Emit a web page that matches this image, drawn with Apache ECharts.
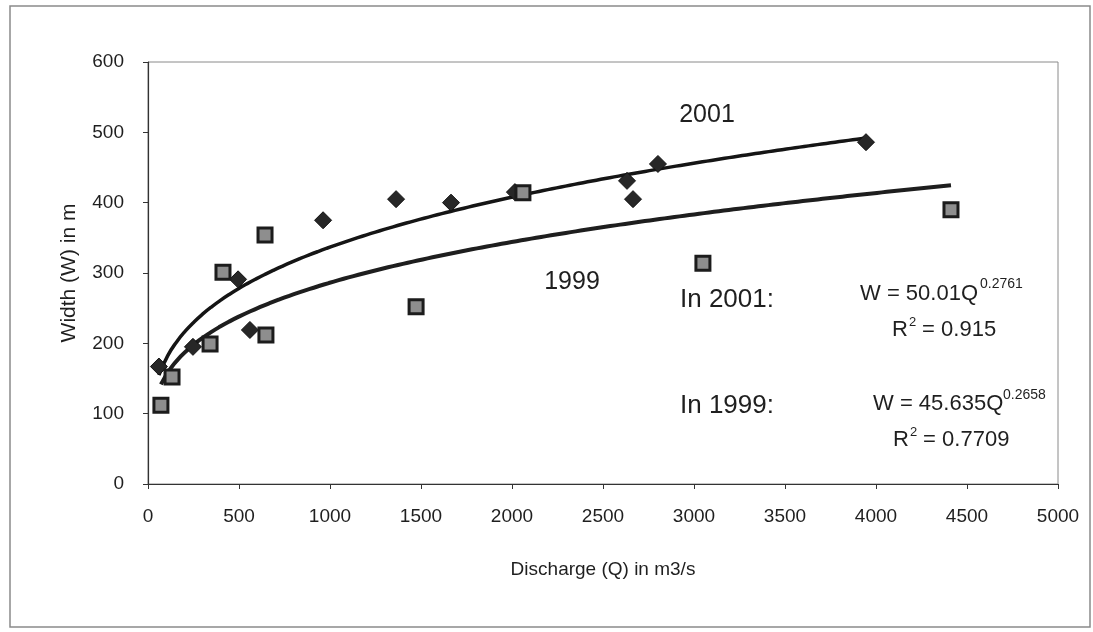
<!DOCTYPE html>
<html>
<head>
<meta charset="utf-8">
<script src="https://cdn.jsdelivr.net/npm/echarts@6/dist/echarts.min.js"></script>
<style>
html,body{margin:0;padding:0;background:#fff;}
#c{width:1093px;height:632px;}
</style>
</head>
<body>
<div id="c"></div>
<script>
// Discharge Q (m3/s) and width W (m)
const q1999 = [71, 132, 341, 412, 643, 648, 1473, 2060, 3049, 4412];
const w1999 = [112, 152, 199, 301, 354, 212, 252, 414, 314, 390];
const q2001 = [60, 247, 495, 560, 962, 1363, 1665, 2016, 2632, 2665, 2802, 3945];
const w2001 = [167, 195, 291, 219, 375, 405, 400, 415, 431, 405, 455, 486];
// Trendline equations as printed on the chart: W = a * Q^b
const fit2001 = {a: 50.01, b: 0.2761};
const fit1999 = {a: 45.635, b: 0.2658};
const xTicks = {min: 0, max: 5000, interval: 500};
const yTicks = {min: 0, max: 600, interval: 100};

function pairs(xs, ys){ return xs.map((x,i)=>[x, ys[i]]); }
function curve(fit, xs){
  const lo = Math.min(...xs), hi = Math.max(...xs);
  const out = [];
  const n = 80;
  for (let i = 0; i <= n; i++){
    const q = lo + (hi - lo) * i / n;
    out.push([q, fit.a * Math.pow(q, fit.b)]);
  }
  return out;
}

const FONT = 'Liberation Sans, Arial, sans-serif';
const TXT = '#1f1f1f';

const chart = echarts.init(document.getElementById('c'), null, {renderer: 'canvas'});
function txt(x, y, s, size, align){
  return {type:'text', x:x, y:y, z:100, style:{text:s, font: size + 'px ' + FONT, fill: TXT, textAlign: align || 'left', textVerticalAlign:'middle'}};
}
chart.setOption({
  backgroundColor: '#ffffff',
  animation: false,
  grid: {left: 148, top: 62, width: 910, height: 422, show: true, borderColor: '#8a8a8a', borderWidth: 1, backgroundColor: 'transparent'},
  xAxis: {
    type: 'value', min: xTicks.min, max: xTicks.max, interval: xTicks.interval,
    name: 'Discharge (Q) in m3/s', nameLocation: 'middle', nameGap: 76,
    nameTextStyle: {fontFamily: FONT, fontSize: 19, color: TXT},
    axisLine: {show: true, onZero: false, lineStyle: {color: '#333', width: 1.2}},
    axisTick: {show: true, inside: false, length: 5, lineStyle: {color: '#333'}},
    axisLabel: {fontFamily: FONT, fontSize: 19, color: TXT, margin: 23, formatter: v => String(v)},
    splitLine: {show: false}
  },
  yAxis: {
    type: 'value', min: yTicks.min, max: yTicks.max, interval: yTicks.interval,
    name: 'Width (W) in m', nameLocation: 'middle', nameGap: 68, nameRotate: 90,
    nameTextStyle: {fontFamily: FONT, fontSize: 21, color: TXT},
    axisLine: {show: true, onZero: false, lineStyle: {color: '#333', width: 1.2}},
    axisTick: {show: true, inside: false, length: 5, lineStyle: {color: '#333'}},
    axisLabel: {fontFamily: FONT, fontSize: 19, color: TXT, margin: 24, formatter: v => String(v)},
    splitLine: {show: false}
  },
  series: [
    {name: 'trend2001', type: 'line', data: curve(fit2001, q2001), showSymbol: false, smooth: true, z: 2,
     lineStyle: {color: '#151515', width: 3.5}},
    {name: 'trend1999', type: 'line', data: curve(fit1999, q1999), showSymbol: false, smooth: true, z: 2,
     lineStyle: {color: '#1e1e1e', width: 4}},
    {name: '1999', type: 'scatter', data: pairs(q1999, w1999), symbol: 'rect', symbolSize: 14, z: 5,
     itemStyle: {color: '#8e8e8e', borderColor: '#1c1c1c', borderWidth: 3, opacity: 1}},
    {name: '2001', type: 'scatter', data: pairs(q2001, w2001), symbol: 'diamond', symbolSize: 17, z: 4,
     itemStyle: {color: '#272727', borderColor: '#111', borderWidth: 1, opacity: 1}}
  ],
  graphic: [
    {type: 'rect', z: 0, silent: true, shape: {x: 10, y: 6, width: 1080, height: 621},
     style: {fill: 'none', stroke: '#8a8a8a', lineWidth: 1.5}},
    txt(707, 115, '2001', 25, 'center'),
    txt(572, 282, '1999', 25, 'center'),
    txt(680, 300, 'In 2001:', 26),
    txt(680, 406, 'In 1999:', 26),
    txt(860, 294, 'W = 50.01Q', 22),
    txt(980, 284, '0.2761', 14),
    txt(892, 330, 'R', 22),
    txt(909, 322, '2', 13),
    txt(916, 330, ' = 0.915', 22),
    txt(873, 404, 'W = 45.635Q', 22),
    txt(1003, 395, '0.2658', 14),
    txt(893, 440, 'R', 22),
    txt(910, 432, '2', 13),
    txt(917, 440, ' = 0.7709', 22)
  ]
});
</script>
</body>
</html>
